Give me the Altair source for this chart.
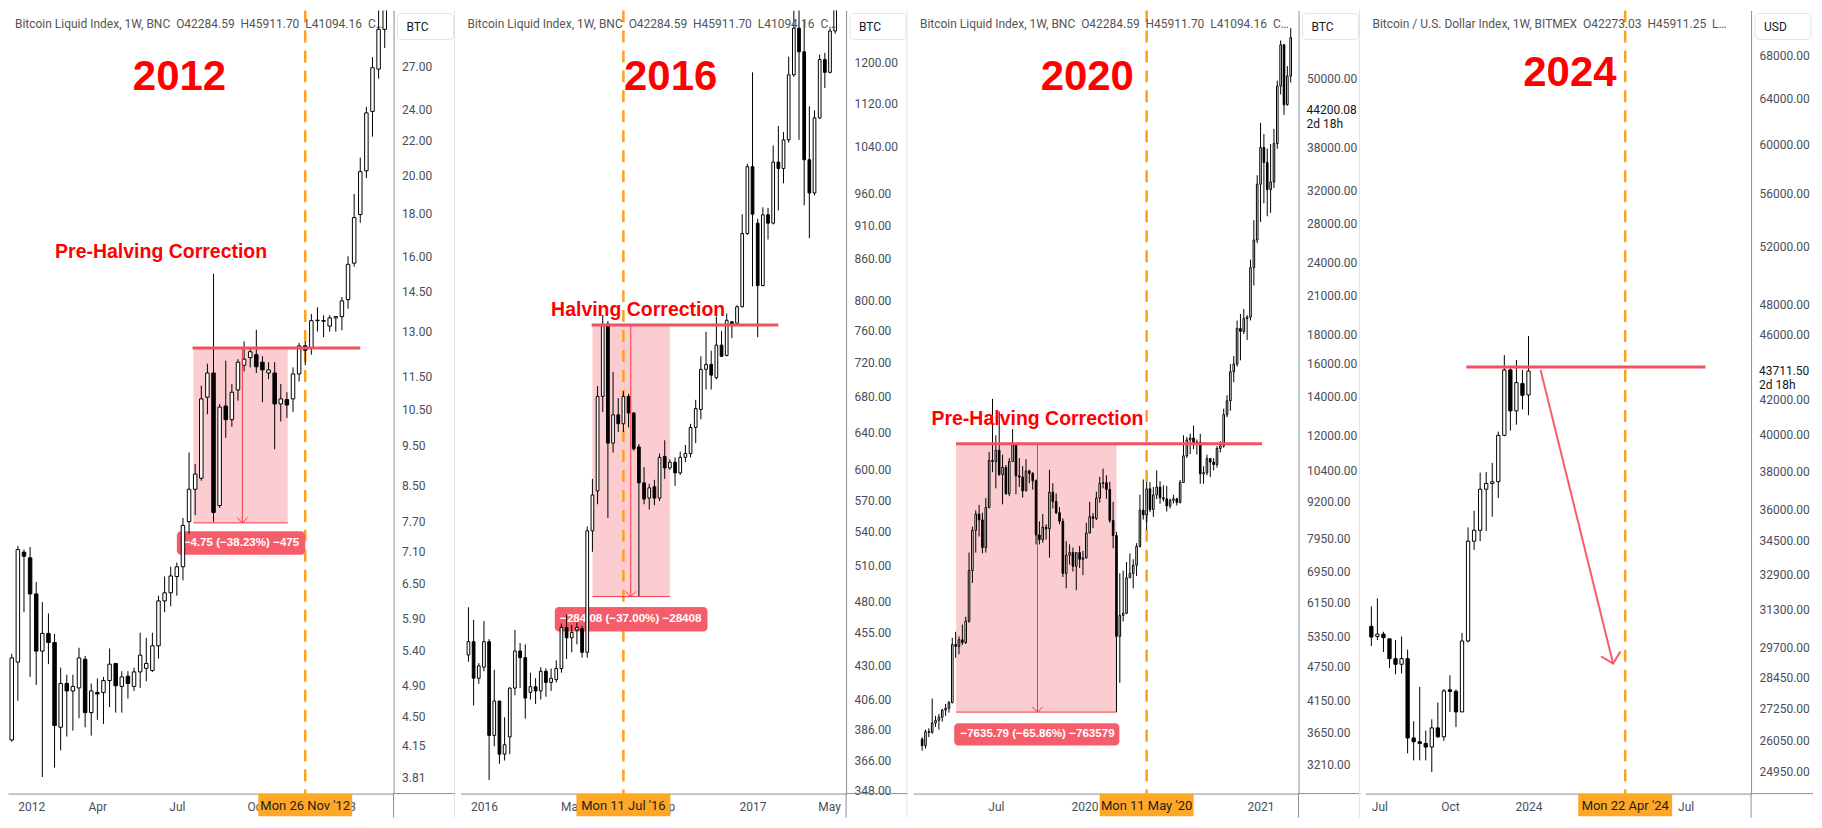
import altair as alt
import pandas as pd

# ============================ DATA ============================
# ---- Panel 1 : 2012 cycle, weekly candles starting Mon 26 Dec 2011
P1_START = "2011-12-26"
P1_OPEN = [4.22, 5.23, 7.08, 6.97, 6.31, 5.39, 5.66, 5.52, 4.37, 4.93,
           4.83, 4.87, 5.27, 4.55, 4.81, 4.81, 4.97, 5.21, 4.89, 5.03,
           4.89, 5.09, 5.14, 5.11, 5.47, 6.19, 6.33, 6.62, 6.80, 7.70,
           8.42, 8.68, 10.85, 11.60, 8.05, 10.59, 10.20, 11.07, 11.85, 12.10,
           12.20, 11.95, 11.60, 11.60, 10.65, 10.78, 10.80, 11.57, 12.50, 12.43,
           13.40, 13.40, 13.20, 13.50, 13.55, 14.20, 15.70, 17.95, 20.25, 23.85,
           26.80, 29.90]
P1_HIGH = [5.35, 7.20, 7.13, 7.18, 6.52, 6.17, 5.98, 5.65, 5.15, 5.05,
           5.05, 5.44, 5.32, 4.93, 5.00, 5.02, 5.43, 5.21, 5.10, 5.10,
           5.15, 5.67, 5.59, 5.67, 6.28, 6.62, 6.80, 6.88, 7.78, 9.32,
           9.03, 11.20, 11.90, 15.25, 10.65, 12.00, 11.25, 12.05, 12.65, 12.45,
           13.07, 12.15, 11.95, 11.95, 11.25, 11.00, 11.78, 12.60, 12.65, 13.65,
           13.90, 13.60, 13.60, 13.55, 14.30, 16.00, 19.00, 21.00, 24.15, 27.70,
           32.00, 34.00]
P1_LOW = [4.20, 4.70, 6.00, 5.02, 4.91, 3.81, 5.20, 3.91, 4.10, 4.26,
          4.33, 4.48, 4.37, 4.27, 4.46, 4.41, 4.62, 4.55, 4.55, 4.73,
          4.83, 4.87, 4.96, 5.09, 5.28, 6.00, 6.10, 6.28, 6.55, 7.45,
          7.84, 8.62, 10.35, 7.70, 8.00, 9.70, 10.00, 10.75, 11.65, 11.78,
          11.60, 10.70, 11.40, 9.40, 10.15, 10.25, 10.42, 11.33, 11.85, 12.20,
          13.00, 12.80, 13.00, 13.00, 13.05, 13.85, 15.55, 17.55, 19.85, 22.25,
          26.10, 28.40]
P1_CLOSE = [5.29, 7.13, 7.00, 6.31, 5.39, 5.66, 5.52, 4.39, 4.93, 4.83,
            4.89, 5.29, 4.55, 4.83, 4.79, 4.97, 5.20, 4.90, 5.02, 4.93,
            5.09, 5.33, 5.21, 5.47, 6.19, 6.33, 6.63, 6.80, 7.62, 8.42,
            8.78, 10.80, 11.60, 7.90, 10.56, 10.20, 11.00, 11.95, 12.05, 12.30,
            11.80, 11.70, 11.70, 10.65, 10.80, 10.62, 11.57, 12.50, 12.35, 13.40,
            13.42, 13.38, 13.50, 13.55, 14.15, 15.65, 17.80, 20.20, 23.75, 26.90,
            29.90, 33.00]
P1_YTICKS = [27, 24, 22, 20, 18, 16, 14.5, 13, 11.5, 10.5, 9.5, 8.5, 7.7, 7.1,
             6.5, 5.9, 5.4, 4.9, 4.5, 4.15, 3.81]
P1_XTICKS = ["2012-01-02", "2012-04-02", "2012-07-02", "2012-10-01", "2013-01-07"]

# ---- Panel 2 : 2016 cycle, weekly candles starting Mon 14 Dec 2015
P2_START = "2015-12-14"
P2_OPEN = [438, 448, 421, 429, 448, 382, 405, 370, 381, 414,
           441, 436, 411, 415, 412, 426, 418, 420, 428, 459,
           451, 457, 458, 440, 541, 579, 680, 769, 628, 659,
           649, 680, 661, 624, 587, 572, 583, 572, 614, 602,
           608, 597, 613, 617, 645, 665, 712, 718, 702, 742,
           729, 772, 770, 792, 897, 1005, 913, 821, 926, 913,
           1013, 1002, 1052, 1175, 1272, 1222, 1017, 961, 1092, 1206,
           1180, 1266]
P2_HIGH = [475, 465, 432, 464, 450, 427, 405, 394, 414.5, 457,
           447, 446, 425, 421, 429, 428, 428, 434, 462, 469,
           461, 463, 460, 545, 591, 692, 781, 773, 709, 678,
           686, 683, 662, 627, 603, 586, 590, 617, 631, 611,
           613, 619, 626, 649, 676, 728, 759, 735, 779, 760,
           783, 773, 794, 927, 1010, 1180, 920, 938, 937, 1042,
           1077, 1066, 1212, 1311, 1320, 1290, 1114, 1106, 1216, 1220,
           1272, 1340]
P2_LOW = [433, 402, 417, 426, 354, 375, 364, 366, 370, 409,
          414, 393, 406, 403, 406, 408, 412, 418, 425, 435,
          440, 446, 436, 436, 522, 566, 662, 553, 618, 640,
          640, 645, 620, 484, 566, 561, 565, 569, 591, 600,
          584, 595, 608, 613, 628, 654, 688, 688, 700, 727,
          728, 751, 769, 791, 895, 820, 752, 820, 888, 911,
          933, 977, 1047, 1171, 1052, 941, 890, 957, 1090, 1149,
          1178, 1260]
P2_CLOSE = [448, 421, 430, 448, 382, 405, 370, 376, 414, 441,
            436, 407, 415, 412, 426, 418, 421, 428, 459, 451,
            455, 459, 440, 541, 575, 680, 768, 628, 659, 649,
            680, 661, 622, 587, 571, 582, 572, 613, 602, 608,
            597, 613, 617, 645, 666, 712, 718, 705, 742, 728,
            774, 769, 792, 897, 1005, 927, 821, 926, 913, 1013,
            1002, 1052, 1175, 1272, 1222, 1017, 961, 1092, 1206, 1180,
            1266, 1330]
P2_YTICKS = [1200, 1120, 1040, 960, 910, 860, 800, 760, 720, 680, 640, 600,
             570, 540, 510, 480, 455, 430, 406, 386, 366, 348]
P2_XTICKS = ["2016-01-04", "2016-05-02", "2016-09-05", "2017-01-02", "2017-05-01"]

# ---- Panel 3 : 2020 cycle, weekly candles starting Mon 28 Jan 2019
P3_START = "2019-01-28"
P3_OPEN = [3550, 3460, 3660, 3650, 3790, 3830, 3880, 3990, 4020, 4110,
           5190, 5150, 5290, 5230, 5700, 6980, 8200, 8750, 8550, 7650,
           8980, 10850, 10800, 11300, 10250, 10550, 9500, 10800, 11550, 10200,
           10150, 9600, 10400, 10300, 10000, 8050, 7900, 8300, 8250, 9550,
           9200, 8800, 8500, 6900, 7420, 7500, 7100, 7500, 7300, 7350,
           8110, 8660, 8600, 9330, 9900, 9920, 9660, 8530, 8030, 5360,
           5830, 5880, 6780, 6900, 7130, 7690, 8890, 8720, 9680, 8910,
           9450, 9750, 9340, 9300, 9040, 9250, 9300, 9170, 9930, 11050,
           11780, 11870, 11650, 11680, 10280, 10330, 10930, 10780, 10670, 11380,
           11500, 13030, 13780, 15480, 15960, 18410, 18190, 19150, 19260, 23480,
           26230, 32800, 38000, 35800, 32100, 33100, 38600, 48600, 57350, 45100,
           50600]
P3_HIGH = [3580, 3690, 3710, 4180, 3900, 3930, 4010, 4090, 4140, 5330,
           5460, 5360, 5620, 5800, 7500, 8320, 8880, 9080, 8800, 9330,
           11230, 13880, 12000, 13200, 11100, 10650, 10950, 12300, 11600, 10950,
           10600, 10900, 10450, 10350, 10050, 8500, 8750, 8400, 10450, 9900,
           9500, 9000, 8600, 7850, 7750, 7650, 7500, 7700, 7550, 8450,
           9190, 8790, 9570, 10160, 10500, 10220, 9960, 9190, 8150, 6900,
           6980, 7220, 7470, 7300, 7790, 9460, 10050, 9950, 9950, 9760,
           10420, 9980, 9820, 9800, 9310, 9450, 9340, 10030, 12000, 11920,
           12080, 12470, 11800, 12070, 10600, 11100, 10950, 10950, 11490, 11720,
           13350, 14090, 15960, 16480, 19000, 19500, 19900, 19420, 24250, 28400,
           34000, 41940, 40100, 37850, 38550, 40950, 49700, 58350, 57500, 52640,
           61300]
P3_LOW = [3390, 3420, 3580, 3630, 3730, 3690, 3810, 3900, 3950, 4100,
          4920, 4990, 5180, 5200, 5660, 6640, 7500, 8000, 7480, 7500,
          8960, 10350, 9700, 10200, 9100, 9450, 9400, 10800, 9470, 9750,
          9350, 9600, 9900, 9650, 7750, 7750, 7800, 7900, 7350, 8950,
          8750, 8400, 6800, 6500, 7150, 6950, 6450, 7050, 6850, 7320,
          8100, 8270, 8540, 9160, 9700, 9300, 8450, 7630, 3958, 4450,
          5690, 5860, 6770, 6500, 6830, 7650, 8560, 8200, 8820, 8650,
          9290, 9120, 9200, 8840, 8950, 9130, 9060, 9130, 9910, 10960,
          11130, 11350, 11110, 9880, 9880, 10220, 10150, 10420, 10540, 11200,
          11420, 12900, 13240, 14840, 15800, 16200, 18000, 17580, 19000, 21860,
          25900, 28200, 30400, 28850, 29250, 32300, 37800, 47000, 43300, 44950,
          49300]
P3_CLOSE = [3460, 3660, 3650, 3790, 3830, 3880, 3990, 4020, 4110, 5190,
            5150, 5290, 5230, 5700, 6980, 8200, 8750, 8550, 7650, 8980,
            10850, 10800, 11300, 10250, 10550, 9500, 10800, 11550, 10200, 10150,
            9600, 10400, 10300, 10000, 8050, 7900, 8300, 8250, 9550, 9200,
            8800, 8500, 6900, 7420, 7500, 7100, 7500, 7300, 7350, 8110,
            8660, 8600, 9330, 9900, 9920, 9660, 8530, 8030, 5360, 5830,
            5880, 6780, 6900, 7130, 7690, 8890, 8720, 9680, 8910, 9450,
            9750, 9340, 9300, 9040, 9250, 9300, 9170, 9930, 11050, 11780,
            11870, 11650, 11680, 10280, 10330, 10930, 10780, 10670, 11380, 11500,
            13030, 13780, 15480, 15960, 18410, 18190, 19150, 19260, 23480, 26230,
            32800, 38000, 35800, 32100, 33100, 38600, 48600, 57350, 45100, 50600,
            59000]
P3_YTICKS = [50000, 38000, 32000, 28000, 24000, 21000, 18000, 16000, 14000,
             12000, 10400, 9200, 7950, 6950, 6150, 5350, 4750, 4150, 3650, 3210]
P3_XTICKS = ["2019-07-01", "2020-01-02", "2021-01-04"]

# ---- Panel 4 : 2024 cycle, weekly candles starting Mon 3 Jul 2023
P4_START = "2023-07-03"
P4_OPEN = [30580, 30150, 30250, 30050, 29230, 29000, 29230, 26160, 26020, 25960,
           25830, 26530, 26200, 27980, 27920, 27130, 29960, 34450, 34980, 37050,
           37350, 37440, 39950, 43780, 41340, 42950, 42273]
P4_HIGH = [31450, 31800, 30350, 30050, 30000, 30150, 29600, 26780, 28100, 26430,
           26850, 27490, 28010, 28560, 28000, 30300, 35120, 35950, 37920, 37950,
           38440, 40160, 44700, 43900, 44390, 43780, 45911]
P4_LOW = [29750, 30000, 29500, 28850, 28600, 28630, 25600, 25350, 25350, 25350,
          24940, 26160, 26050, 27130, 26560, 27130, 29900, 34030, 34450, 34940,
          35650, 36600, 39900, 40220, 40550, 41430, 41094]
P4_CLOSE = [30125, 30250, 30100, 29230, 29000, 29230, 26160, 26020, 25960, 25830,
            26530, 26200, 27940, 27920, 27130, 29960, 34450, 34980, 37050, 37350,
            37440, 39950, 43780, 41340, 43010, 42250, 43711]
P4_YTICKS = [68000, 64000, 60000, 56000, 52000, 48000, 46000, 42000, 40000, 38000,
             36000, 34500, 32900, 31300, 29700, 28450, 27250, 26050, 24950]
P4_XTICKS = ["2023-07-03", "2023-10-02", "2024-01-01", "2024-07-01"]

# ---- texts
HDR_BLX = ("Bitcoin Liquid Index, 1W, BNC\u00a0\u00a0O42284.59\u00a0\u00a0"
           "H45911.70\u00a0\u00a0L41094.16\u00a0\u00a0C\u2026")
HDR_BMX = ("Bitcoin / U.S. Dollar Index, 1W, BITMEX\u00a0\u00a0O42273.03\u00a0\u00a0"
           "H45911.25\u00a0\u00a0L\u2026")

PANELS = [
    dict(start=P1_START, o=P1_OPEN, h=P1_HIGH, l=P1_LOW, c=P1_CLOSE,
         yticks=P1_YTICKS, xticks=P1_XTICKS, ydom=[3.64, 31.5],
         xdom=["2011-12-27 10:00", "2013-03-01 10:00"], bw=3.5,
         header=HDR_BLX, unit="BTC",
         rng=dict(x1="2012-07-21", x2="2012-11-06", top=12.425, bot=7.675, xa="2012-09-15"),
         level=dict(x1="2012-07-20", x2="2013-01-28", p=12.43),
         box=dict(x1="2012-07-02", x2="2012-11-26", y1=7.50, y2=7.03,
                  xc="2012-09-14", yc=7.26, t="\u22124.75 (\u221238.23%) \u2212475"),
         year=dict(d="2012-07-05", p=26.2, t="2012"),
         note=dict(d="2012-06-14", p=16.2, t="Pre-Halving Correction"),
         halving=dict(d="2012-11-26", t="Mon 26 Nov '12")),
    dict(start=P2_START, o=P2_OPEN, h=P2_HIGH, l=P2_LOW, c=P2_CLOSE,
         yticks=P2_YTICKS, xticks=P2_XTICKS, ydom=[346, 1311],
         xdom=["2015-12-10", "2017-05-02"], bw=2.7,
         header=HDR_BLX, unit="BTC",
         rng=dict(x1="2016-05-30", x2="2016-09-12", top=767.8, bot=483.7, xa="2016-07-21"),
         level=dict(x1="2016-05-29", x2="2017-02-06", p=767.8),
         box=dict(x1="2016-04-09", x2="2016-11-02", y1=475.3, y2=455.8,
                  xc="2016-07-21", yc=465.5, t="\u2212284.08 (\u221237.00%) \u221228408"),
         year=dict(d="2016-09-13", p=1170, t="2016"),
         note=dict(d="2016-07-31", p=788, t="Halving Correction"),
         halving=dict(d="2016-07-11", t="Mon 11 Jul '16")),
    dict(start=P3_START, o=P3_OPEN, h=P3_HIGH, l=P3_LOW, c=P3_CLOSE,
         yticks=P3_YTICKS, xticks=P3_XTICKS, ydom=[2856, 65800],
         xdom=["2019-01-19 08:00", "2021-03-14"], bw=1.6,
         header=HDR_BLX, unit="BTC",
         rng=dict(x1="2019-04-09", x2="2020-03-09", top=11594, bot=3958, xa="2019-09-26"),
         level=dict(x1="2019-04-09", x2="2021-01-07", p=11594),
         box=dict(x1="2019-04-05", x2="2020-03-15", y1=3786, y2=3461,
                  xc="2019-09-26", yc=3620, t="\u22127635.79 (\u221265.86%) \u2212763579"),
         year=dict(d="2020-01-08", p=50390, t="2020"),
         note=dict(d="2019-09-26", p=12826, t="Pre-Halving Correction"),
         halving=dict(d="2020-05-11", t="Mon 11 May '20"),
         last=44200.08),
    dict(start=P4_START, o=P4_OPEN, h=P4_HIGH, l=P4_LOW, c=P4_CLOSE,
         yticks=P4_YTICKS, xticks=P4_XTICKS, ydom=[24200, 72400],
         xdom=["2023-07-02", "2024-09-09"], bw=3.3,
         header=HDR_BMX, unit="USD",
         level=dict(x1="2023-10-21", x2="2024-07-24", p=43965),
         arrow=dict(x1="2024-01-15", y1=43780, x2="2024-04-08", y2=29030),
         year=dict(d="2024-02-18", p=66300, t="2024"),
         halving=dict(d="2024-04-22", t="Mon 22 Apr '24"),
         last=43711.50),
]

# ============================ STYLE ============================
W, H = 386, 784
AXW = 62
RANGE_FILL = "#f23645"
RANGE_LINE = "#f23645"
LEVEL = "#f0525f"
BOX = "#f65d6b"
TXT_RED = "#ff0000"
ORANGE = "#ffa01e"
ORANGE_BOX = "#ffa726"
AX_TXT = "#4a4e59"
AX_LINE = "#8a8d96"
VSHAPE = "M-1,-1L0,0L1,-1"
TAG_W = 94
LABEL_EXPR = ("utcFormat(datum.value, '%m') == '01' ? utcFormat(datum.value, '%Y') "
              ": utcFormat(datum.value, '%b')")


def ms(s):
    return int(pd.Timestamp(s).value // 10**6)


def candle_frame(p):
    n = min(len(p["o"]), len(p["h"]), len(p["l"]), len(p["c"]))
    dates = [d.strftime("%Y-%m-%d") for d in pd.date_range(p["start"], periods=n, freq="7D")]
    o, h, l, c = p["o"][:n], p["h"][:n], p["l"][:n], p["c"][:n]
    return pd.DataFrame({
        "d": dates, "o": o, "h": h, "l": l, "c": c,
        "lo": [min(a, b) for a, b in zip(o, c)],
        "hi": [max(a, b) for a, b in zip(o, c)],
        "fill": ["#ffffff" if b >= a else "#000000" for a, b in zip(o, c)],
    })


def build(p, is_last):
    xs = alt.Scale(type="utc", domain=[ms(p["xdom"][0]), ms(p["xdom"][1])], nice=False)
    ys = alt.Scale(type="log", domain=p["ydom"], nice=False)
    xaxis = alt.Axis(values=[ms(v) for v in p["xticks"]], labelExpr=LABEL_EXPR, title=None,
                     grid=False, ticks=False, tickSize=0, labelPadding=8, labelFontSize=12,
                     labelFont="Roboto", labelColor=AX_TXT, domainColor=AX_LINE,
                     labelFlush=15, labelOverlap=False, minExtent=24, maxExtent=24)
    yaxis = alt.Axis(orient="right", values=p["yticks"], format=".2f", title=None,
                     grid=False, ticks=False, tickSize=0, labelPadding=8, labelFontSize=12,
                     labelFont="Roboto", labelColor=AX_TXT, domainColor=AX_LINE,
                     labelFlush=False, labelOverlap=False, minExtent=AXW, maxExtent=AXW)

    def X(f):
        return alt.X(f, type="temporal", scale=xs, axis=xaxis)

    def Y(f):
        return alt.Y(f, type="quantitative", scale=ys, axis=yaxis)

    one = pd.DataFrame([{"t": p["unit"]}])
    layers = []
    rng = p.get("rng")
    if rng:
        rdf = pd.DataFrame([rng])
        layers.append(alt.Chart(rdf).mark_rect(color=RANGE_FILL, opacity=0.25).encode(
            x=X("x1"), x2="x2", y=Y("top"), y2="bot"))

    # halving vertical dashed line
    hdf = pd.DataFrame([p["halving"]])
    layers.append(alt.Chart(hdf).mark_rule(color=ORANGE, strokeWidth=2.5,
                                           strokeDash=[12, 8]).encode(x=X("d")))

    if p.get("box"):
        bdf = pd.DataFrame([p["box"]])
        layers.append(alt.Chart(bdf).mark_rect(color=BOX, cornerRadius=4).encode(
            x=X("x1"), x2="x2", y=Y("y1"), y2="y2"))
        layers.append(alt.Chart(bdf).mark_text(color="#ffffff", font="Liberation Sans",
                                               fontSize=11.6, fontWeight="bold").encode(
            x=X("xc"), y=Y("yc"), text="t:N"))

    cdf = candle_frame(p)
    layers.append(alt.Chart(cdf).mark_rule(color="#000000", strokeWidth=1, clip=True).encode(
        x=X("d"), y=Y("l"), y2="h"))
    layers.append(alt.Chart(cdf).mark_bar(size=p["bw"], stroke="#000000", strokeWidth=1,
                                          clip=True).encode(
        x=X("d"), y=Y("lo"), y2="hi", fill=alt.Fill("fill:N", scale=None)))

    if rng:
        edges = pd.DataFrame([{"x1": rng["x1"], "x2": rng["x2"], "p": rng["top"]},
                              {"x1": rng["x1"], "x2": rng["x2"], "p": rng["bot"]}])
        layers.append(alt.Chart(edges).mark_rule(color=RANGE_LINE, strokeWidth=1).encode(
            x=X("x1"), x2="x2", y=Y("p")))
        layers.append(alt.Chart(rdf).mark_rule(color=RANGE_LINE, strokeWidth=1).encode(
            x=X("xa"), y=Y("top"), y2="bot"))
        layers.append(alt.Chart(rdf).mark_point(shape=VSHAPE, filled=False, color=RANGE_LINE,
                                                size=110, strokeWidth=1, opacity=1).encode(
            x=X("xa"), y=Y("bot")))

    lv = pd.DataFrame([p["level"]])
    layers.append(alt.Chart(lv).mark_rule(color=LEVEL, strokeWidth=3).encode(
        x=X("x1"), x2="x2", y=Y("p")))

    if p.get("arrow"):
        adf = pd.DataFrame([p["arrow"]])
        layers.append(alt.Chart(adf).mark_rule(color=BOX, strokeWidth=2).encode(
            x=X("x1"), x2="x2", y=Y("y1"), y2="y2"))
        layers.append(alt.Chart(adf).mark_point(shape=VSHAPE, filled=False, color=BOX,
                                                size=400, strokeWidth=2, opacity=1,
                                                angle=346).encode(x=X("x2"), y=Y("y2")))

    ydf = pd.DataFrame([p["year"]])
    layers.append(alt.Chart(ydf).mark_text(color=TXT_RED, font="Liberation Sans", fontSize=42,
                                           fontWeight="bold").encode(
        x=X("d"), y=Y("p"), text="t:N"))
    if p.get("note"):
        ndf = pd.DataFrame([p["note"]])
        layers.append(alt.Chart(ndf).mark_text(color=TXT_RED, font="Liberation Sans",
                                               fontSize=19.5, fontWeight="bold").encode(
            x=X("d"), y=Y("p"), text="t:N"))

    # header legend
    layers.append(alt.Chart(pd.DataFrame([{"t": p["header"]}])).mark_text(
        align="left", font="Roboto", fontSize=12, color="#555555").encode(
        x=alt.value(7), y=alt.value(14), text="t:N"))

    # price-scale unit box
    layers.append(alt.Chart(one).mark_rect(fill="#ffffff", stroke="#e0e3eb", strokeWidth=1,
                                           cornerRadius=4).encode(
        x=alt.value(W + 4), x2=alt.value(W + 60), y=alt.value(3), y2=alt.value(29)))
    layers.append(alt.Chart(one).mark_text(align="left", font="Roboto", fontSize=12,
                                           color="#131722").encode(
        x=alt.value(W + 13), y=alt.value(17), text="t:N"))

    # current price label
    if p.get("last"):
        ldf = pd.DataFrame([{"p": p["last"], "t": f"{p['last']:.2f}", "s": "2d 18h"}])
        layers.append(alt.Chart(ldf).mark_text(align="left", font="Roboto", fontSize=12,
                                               color="#131722").encode(
            x=alt.value(W + 8), y=Y("p"), text="t:N"))
        layers.append(alt.Chart(ldf).mark_text(align="left", font="Roboto", fontSize=12,
                                               color="#131722", dy=14).encode(
            x=alt.value(W + 8), y=Y("p"), text="s:N"))

    # axis line extensions + panel separator
    layers.append(alt.Chart(one).mark_rule(color=AX_LINE, strokeWidth=1).encode(
        x=alt.value(W), x2=alt.value(W + AXW), y=alt.value(H)))
    layers.append(alt.Chart(one).mark_rule(color=AX_LINE, strokeWidth=1).encode(
        x=alt.value(W), y=alt.value(H), y2=alt.value(H + 24)))
    if not is_last:
        layers.append(alt.Chart(one).mark_rule(color="#e0e3eb", strokeWidth=1).encode(
            x=alt.value(W + AXW - 1), y=alt.value(0), y2=alt.value(H + 24)))

    # halving date tag on the time axis
    layers.append(alt.Chart(hdf).mark_point(shape="M-1,-0.24L1,-0.24L1,0.24L-1,0.24Z",
                                            size=TAG_W * TAG_W, filled=True, color=ORANGE_BOX,
                                            opacity=1, strokeWidth=0).encode(
        x=X("d"), y=alt.value(H + 11.5)))
    layers.append(alt.Chart(hdf).mark_text(font="Roboto", fontSize=13, color="#1e1e1e").encode(
        x=X("d"), y=alt.value(H + 12), text="t:N"))

    return alt.layer(*layers).properties(width=W, height=H)


panels = [build(p, i == len(PANELS) - 1) for i, p in enumerate(PANELS)]
chart = alt.hconcat(*panels, spacing=4).properties(padding=0).configure_view(stroke=None)
chart.save("out.html", embed_options={"renderer": "svg", "actions": False})
